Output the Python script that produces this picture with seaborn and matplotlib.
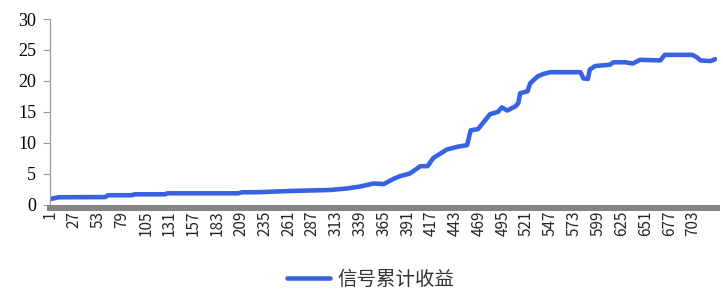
import matplotlib
matplotlib.use('Agg')
import matplotlib.pyplot as plt
import seaborn as sns
import pandas as pd

# Data (trading day index, cumulative return)
days = [1, 10, 61, 64, 90, 93, 126, 129, 206, 210, 230, 266, 307, 325, 339,
        354, 365, 375, 383, 391, 394, 405, 413, 419, 434, 446, 456, 460, 468,
        473, 481, 490, 494, 500, 509, 512, 514, 522, 525, 533, 539, 547, 580,
        583, 588, 590, 596, 612, 616, 629, 637, 645, 667, 672, 702, 707, 711,
        722, 727]
values = [0.9, 1.17, 1.2, 1.5, 1.5, 1.65, 1.65, 1.81, 1.81, 1.97, 2.0, 2.2,
          2.35, 2.6, 2.9, 3.4, 3.3, 4.1, 4.6, 4.9, 5.05, 6.2, 6.2, 7.5, 8.9,
          9.35, 9.6, 12.0, 12.2, 13.1, 14.6, 15.0, 15.7, 15.2, 15.9, 16.4,
          18.0, 18.3, 19.6, 20.7, 21.1, 21.4, 21.4, 20.4, 20.3, 21.8, 22.4,
          22.6, 23.0, 23.0, 22.8, 23.4, 23.3, 24.2, 24.2, 23.8, 23.3, 23.2,
          23.5]
series_name = '信号累计收益'
x_ticks = list(range(1, 704, 26))
y_ticks = [0, 5, 10, 15, 20, 25, 30]

df = pd.DataFrame({'day': days, 'value': values})

sns.set_theme(style='white')
plt.rcParams['font.family'] = ['Noto Sans CJK SC', 'DejaVu Sans']

W, H = 723, 297
fig = plt.figure(figsize=(W / 100, H / 100), dpi=100)
ax = fig.add_axes([50 / W, 1 - 204.5 / H, (717 - 50) / W, (204.5 - 19) / H])

sns.lineplot(data=df, x='day', y='value', ax=ax, color='#3763E3',
             linewidth=3.3, label=series_name)

ax.set_xlim(0.5, 729)
ax.set_ylim(0, 30)
ax.set_xticks(x_ticks)
ax.set_xticklabels([str(t) for t in x_ticks])
ax.set_yticks(y_ticks)
ax.set_yticklabels([str(t) for t in y_ticks])
for lab in ax.get_xticklabels():
    lab.set_rotation(90)
    lab.set_family('Liberation Serif')
    lab.set_fontsize(11)
    lab.set_color('black')
for lab in ax.get_yticklabels():
    lab.set_family('Liberation Serif')
    lab.set_fontsize(13)
    lab.set_color('black')
ax.set_xlabel('')
ax.set_ylabel('')

for s in ['top', 'right']:
    ax.spines[s].set_visible(False)
ax.spines['left'].set_color('#9a9a9a')
ax.spines['left'].set_linewidth(0.9)
ax.spines['bottom'].set_color('#858585')
ax.spines['bottom'].set_linewidth(4.3)
ax.spines['bottom'].set_position(('outward', 2.5))

ax.tick_params(axis='y', which='both', left=True, length=5, width=0.8,
               color='#9a9a9a', pad=5, direction='out')
ax.tick_params(axis='x', which='both', bottom=False, length=0, pad=2,
               labelrotation=90)

ax.legend(loc='center', bbox_to_anchor=(371 / W, 1 - 279 / H),
          bbox_transform=fig.transFigure, frameon=False, fontsize=14,
          handlelength=2.2, handletextpad=0.4, labelcolor='#333333')

fig.savefig('out.png', dpi=100)
